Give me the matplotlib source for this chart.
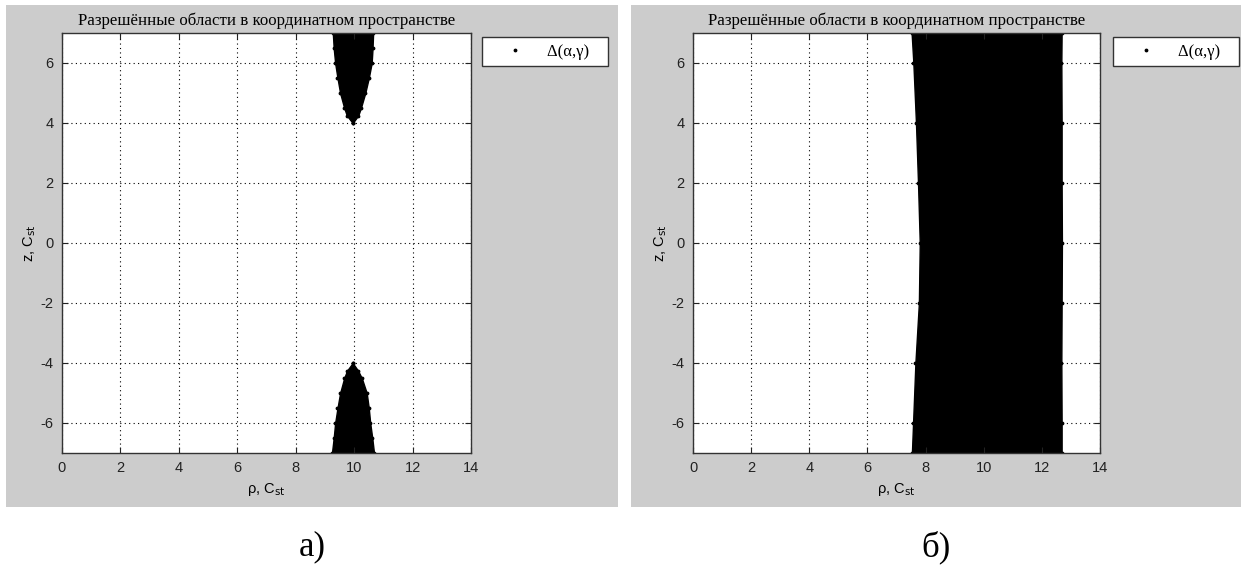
import matplotlib
matplotlib.use("Agg")
import matplotlib.pyplot as plt
from matplotlib.patches import Rectangle

plt.rcParams['axes.unicode_minus'] = False

W, H = 1247, 567

# границы разрешённых областей, считанные с рисунка
# а) верхняя область
z_up = [4.0, 4.25, 4.5, 5.0, 5.5, 6.0, 6.5, 7.0]
rho_up_l = [9.95, 9.75, 9.66, 9.52, 9.43, 9.35, 9.30, 9.27]
rho_up_r = [9.95, 10.14, 10.23, 10.38, 10.50, 10.60, 10.63, 10.65]
# а) нижняя область
z_dn = [-7.0, -6.5, -6.0, -5.5, -5.0, -4.5, -4.25, -4.0]
rho_dn_l = [9.24, 9.30, 9.35, 9.43, 9.52, 9.66, 9.76, 9.95]
rho_dn_r = [10.68, 10.62, 10.55, 10.50, 10.43, 10.26, 10.13, 9.95]
# б) полоса
z_band = [-7.0, -6.0, -4.0, -2.0, 0.0, 2.0, 4.0, 6.0, 7.0]
rho_band_l = [7.53, 7.57, 7.65, 7.77, 7.80, 7.74, 7.67, 7.58, 7.52]
rho_band_r = [12.68, 12.68, 12.67, 12.68, 12.69, 12.68, 12.68, 12.67, 12.68]

xticks = [0, 2, 4, 6, 8, 10, 12, 14]
yticks = [-6, -4, -2, 0, 2, 4, 6]
title = 'Разрешённые области в координатном пространстве'
legend_label = 'Δ(α,γ)   '

def box(x0, y0, x1, y1):
    return [x0 / W, 1 - y1 / H, (x1 - x0) / W, (y1 - y0) / H]

fig = plt.figure(figsize=(W / 100, H / 100), dpi=100)
fig.patch.set_facecolor('white')

gray = '#cccccc'
for gx0, gx1 in [(6, 618), (631, 1241)]:
    b = box(gx0, 5, gx1, 507)
    fig.add_artist(Rectangle((b[0], b[1]), b[2], b[3], transform=fig.transFigure,
                             facecolor=gray, edgecolor='none', zorder=0))

sans = 'Liberation Sans'
serif = 'Liberation Serif'

def setup(ax, leg_x):
    ax.set_xlim(0, 14)
    ax.set_ylim(-7, 7)
    ax.set_xticks(xticks)
    ax.set_yticks(yticks)
    ax.grid(True, color='black', linestyle=(0, (1, 3)), linewidth=0.8)
    ax.tick_params(direction='in', top=True, right=True, length=4,
                   labelsize=10.5, pad=6, colors='#222222')
    for lab in ax.get_xticklabels() + ax.get_yticklabels():
        lab.set_family(sans)
    for s in ax.spines.values():
        s.set_color('#333333')
        s.set_linewidth(1.0)
    ax.set_title(title, fontsize=12.2, family=serif, pad=6)
    ax.set_xlabel('ρ, C$_{\\mathrm{st}}$', fontsize=10.5, family=sans, labelpad=4)
    ax.set_ylabel('z, C$_{\\mathrm{st}}$', fontsize=10.5, family=sans, labelpad=2)
    leg = ax.legend(loc='upper left', bbox_to_anchor=(leg_x / W, 1 - 37 / H),
                    bbox_transform=fig.transFigure, frameon=True, fancybox=False,
                    facecolor='white', framealpha=1,
                    edgecolor='#333333', borderaxespad=0, borderpad=0.4,
                    handlelength=3.2, handletextpad=0.3, markerscale=1,
                    prop={'family': serif, 'size': 12})
    leg.get_frame().set_linewidth(1.0)

# а)
ax1 = fig.add_axes(box(62, 33, 471, 453))
ax1.fill_betweenx(z_up, rho_up_l, rho_up_r, color='black', lw=1)
ax1.fill_betweenx(z_dn, rho_dn_l, rho_dn_r, color='black', lw=1)
ax1.plot(rho_up_l + rho_up_r + rho_dn_l + rho_dn_r, z_up + z_up + z_dn + z_dn,
         'k.', ms=3.5, ls='none', label=legend_label)
setup(ax1, 482)

# б)
ax2 = fig.add_axes(box(693, 33, 1100, 453))
ax2.fill_betweenx(z_band, rho_band_l, rho_band_r, color='black', lw=1)
ax2.plot(rho_band_l + rho_band_r, z_band + z_band, 'k.', ms=3.5, ls='none',
         label=legend_label)
setup(ax2, 1113)

fig.text(312 / W, 1 - 547 / H, 'а)', fontsize=25, family=serif, ha='center', va='center')
fig.text(936 / W, 1 - 547 / H, 'б)', fontsize=25, family=serif, ha='center', va='center')

fig.savefig('out.png', dpi=100)
